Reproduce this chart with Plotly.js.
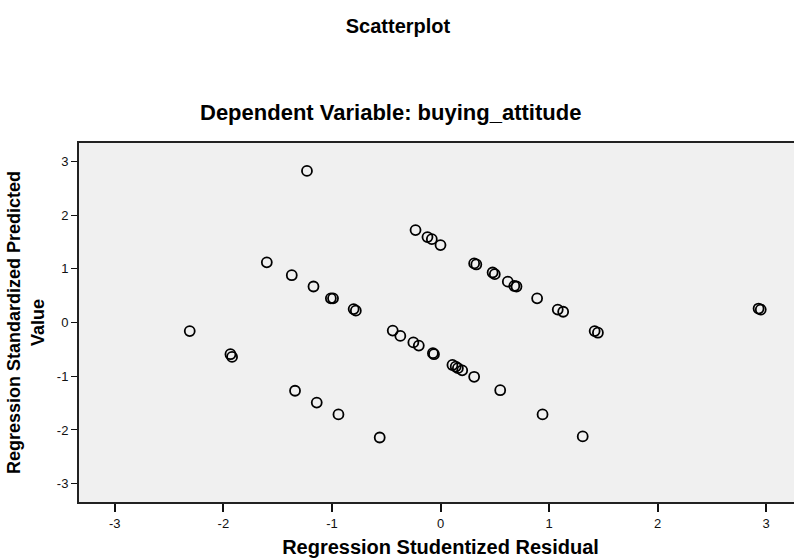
<!DOCTYPE html>
<html>
<head>
<meta charset="utf-8">
<script src="https://cdn.plot.ly/plotly-3.0.1.min.js"></script>
<style>
html,body{margin:0;padding:0;overflow:hidden;background:#fff;}
#chart{width:803px;height:558px;}
</style>
</head>
<body>
<div id="chart"></div>
<script>
// Regression Studentized Residual (x) and Regression Standardized Predicted Value (y)
const studentizedResidual = [
  -1.23, -1.60, -1.37, -1.17, -1.01, -0.99, -0.80, -0.78,
  -2.31, -1.935, -1.92, -1.34, -1.14, -0.94, -0.56, -0.44,
  -0.23, -0.12, -0.08, 0.00, 0.31, 0.33, 0.48, 0.50,
  0.62, 0.68, 0.70, 0.89, 1.08, 1.13, 2.93, 2.95,
  1.42, 1.45, -0.37, -0.25, -0.20, -0.07, -0.06,
  0.11, 0.14, 0.16, 0.20, 0.31, 0.55, 0.94, 1.31
];
const standardizedPredicted = [
  2.82, 1.12, 0.88, 0.67, 0.45, 0.45, 0.25, 0.22,
  -0.16, -0.59, -0.64, -1.27, -1.49, -1.71, -2.14, -0.15,
  1.72, 1.59, 1.55, 1.44, 1.10, 1.08, 0.93, 0.90,
  0.76, 0.68, 0.67, 0.45, 0.24, 0.20, 0.26, 0.24,
  -0.16, -0.19, -0.25, -0.37, -0.43, -0.57, -0.59,
  -0.79, -0.82, -0.85, -0.89, -1.01, -1.26, -1.71, -2.12
];
const tickValues = [-3, -2, -1, 0, 1, 2, 3];
const tickLabels = ['-3', '-2', '-1', '0', '1', '2', '3'];

const FONT = 'Liberation Sans, Arial, sans-serif';

const trace = {
  type: 'scatter',
  mode: 'markers',
  x: studentizedResidual,
  y: standardizedPredicted,
  marker: {
    symbol: 'circle-open',
    size: 10,
    color: '#000',
    line: {color: '#000', width: 1.8}
  },
  hoverinfo: 'x+y'
};

const layout = {
  width: 803,
  height: 558,
  margin: {l: 79, r: 1, t: 143, b: 56},
  paper_bgcolor: '#ffffff',
  plot_bgcolor: '#f0f0f0',
  showlegend: false,
  font: {family: FONT, color: '#000'},
  title: {
    text: '<b>Scatterplot</b>',
    font: {family: FONT, size: 20, color: '#000'},
    x: 0.4956, xanchor: 'center', xref: 'container',
    y: 1 - 26 / 558, yanchor: 'middle', yref: 'container'
  },
  annotations: [{
    text: '<b>Dependent Variable: buying_attitude</b>',
    xref: 'paper', yref: 'paper',
    x: (390 - 79) / 723, y: (502 - 113) / 359,
    xanchor: 'center', yanchor: 'middle',
    showarrow: false,
    font: {family: FONT, size: 22, color: '#000'}
  }],
  xaxis: {
    range: [-3.33, 3.33],
    tickvals: tickValues,
    ticktext: tickLabels,
    ticks: 'outside', ticklen: 8, tickwidth: 2, tickcolor: '#111',
    tickfont: {family: FONT, size: 13, color: '#111'},
    showgrid: false, zeroline: false,
    showline: true, linecolor: '#222', linewidth: 2, mirror: true,
    title: {
      text: '<b>Regression Studentized Residual</b>',
      font: {family: FONT, size: 20, color: '#000'},
      standoff: 11
    },
    fixedrange: true
  },
  yaxis: {
    range: [-3.34, 3.34],
    tickvals: tickValues,
    ticktext: tickLabels,
    ticks: 'outside', ticklen: 6, tickwidth: 1, tickcolor: '#111',
    tickfont: {family: FONT, size: 13, color: '#111'},
    showgrid: false, zeroline: false,
    showline: true, linecolor: '#222', linewidth: 2, mirror: true,
    title: {
      text: '<b>Regression Standardized Predicted<br>Value</b>',
      font: {family: FONT, size: 18, color: '#000'},
      standoff: 8
    },
    fixedrange: true
  }
};

Plotly.newPlot('chart', [trace], layout, {displayModeBar: false});
</script>
</body>
</html>
